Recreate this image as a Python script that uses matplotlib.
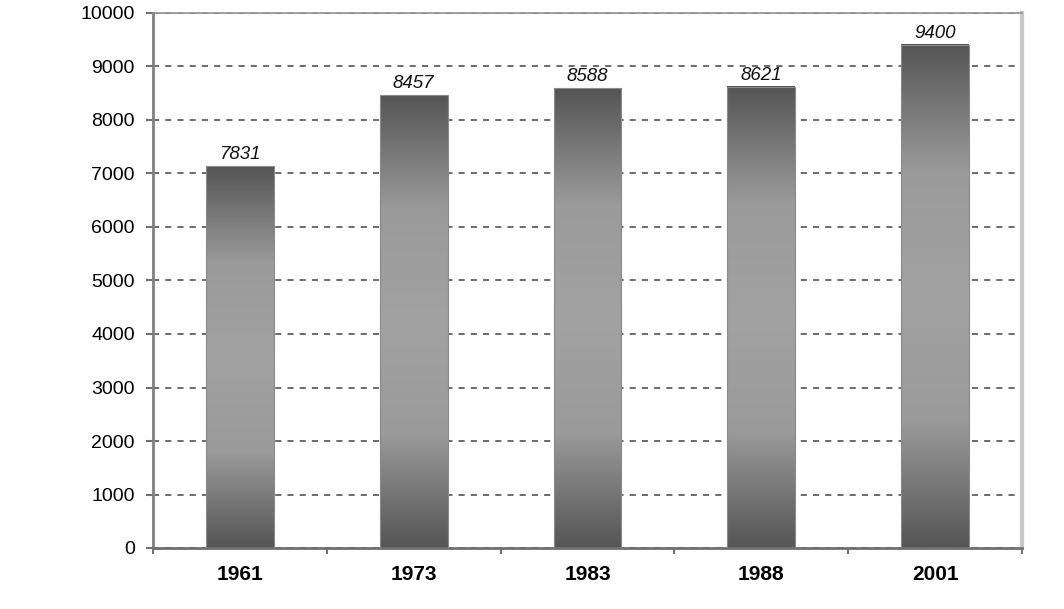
import numpy as np
import matplotlib.pyplot as plt
from matplotlib.colors import LinearSegmentedColormap

years = ['1961', '1973', '1983', '1988', '2001']
heights = [7140, 8465, 8598, 8617, 9405]
value_labels = ['7831', '8457', '8588', '8621', '9400']

narrow = ['Liberation Sans Narrow', 'Liberation Sans', 'DejaVu Sans']

fig = plt.figure(figsize=(10.64, 6.09), dpi=100)
ax = fig.add_axes([153 / 1064, 1 - 548 / 609, 869 / 1064, 535 / 609])

x = np.arange(len(years))
width = 0.39
bars = ax.bar(x, heights, width=width, color='none', edgecolor='#8a8a8a', linewidth=0.8, zorder=3)

# vertical gradient: dark at top and bottom, light in the middle
cmap = LinearSegmentedColormap.from_list('g', ['#555555', '#9a9a9a', '#a2a2a2', '#9a9a9a', '#555555'])
grad = np.linspace(0, 1, 256).reshape(-1, 1)
for b in bars:
    x0, w, h = b.get_x(), b.get_width(), b.get_height()
    im = ax.imshow(grad, cmap=cmap, aspect='auto', extent=[x0, x0 + w, 0, h],
                   origin='lower', zorder=2)

for xi, h, lab in zip(x, heights, value_labels):
    ax.text(xi, h + 60, lab, ha='center', va='bottom', fontsize=13.5,
            style='italic', family=narrow, color='#111111')

ax.set_xlim(-0.5, len(years) - 0.5)
ax.set_ylim(0, 10000)
ax.set_yticks(np.arange(0, 10001, 1000))
ax.set_yticklabels([str(v) for v in range(0, 10001, 1000)], family=narrow, fontsize=14)
ax.set_xticks(x)
ax.set_xticklabels(years, fontsize=15, fontweight='bold', family=['Liberation Sans', 'DejaVu Sans'])
ax.set_xticks(np.arange(-0.5, len(years), 1), minor=True)
ax.tick_params(axis='x', which='major', length=0, pad=12)
ax.tick_params(axis='x', which='minor', length=4, color='#707070', width=1.5)
ax.tick_params(axis='y', length=5, color='#707070', width=1.5, pad=8)

ax.yaxis.grid(True, linestyle=(0, (4, 4)), color='#444444', linewidth=1.1, zorder=1)
ax.set_axisbelow(True)

ax.spines['left'].set_color('#808080')
ax.spines['left'].set_linewidth(2)
ax.spines['bottom'].set_color('#707070')
ax.spines['bottom'].set_linewidth(2)
ax.spines['top'].set_color('#909090')
ax.spines['top'].set_linewidth(1.2)
ax.spines['right'].set_color('#c8c8c8')
ax.spines['right'].set_linewidth(3)

plt.savefig('out.png', dpi=100)
